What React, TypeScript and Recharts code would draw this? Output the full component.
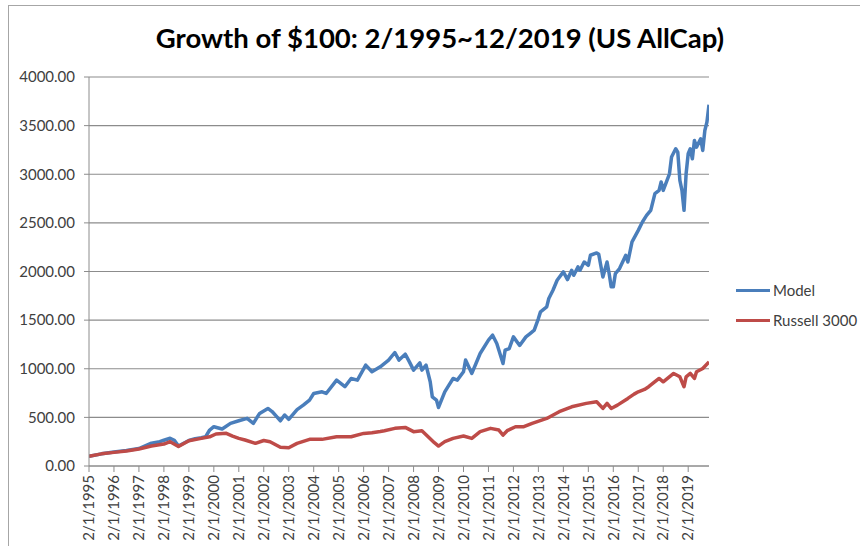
import { LineChart, Line, XAxis, YAxis, CartesianGrid, Legend } from 'recharts';

// month index 0 = 2/1995, 298 = 12/2019
const tickYears = [1995, 1996, 1997, 1998, 1999, 2000, 2001, 2002, 2003, 2004, 2005, 2006, 2007,
  2008, 2009, 2010, 2011, 2012, 2013, 2014, 2015, 2016, 2017, 2018, 2019];
const yTicks = [0, 500, 1000, 1500, 2000, 2500, 3000, 3500, 4000];

const modelMonth = [0, 6, 12, 18, 24, 30, 34, 36, 39, 41, 43, 48, 51, 54, 56, 58, 60, 64, 68, 72, 76, 79,
  82, 86, 88, 90, 92, 94, 96, 100, 103, 106, 108, 112, 114, 119, 123, 126, 129, 133, 136, 140, 144, 147,
  149, 152, 154, 156, 159, 160, 162, 164, 165, 167, 168, 171, 173, 175, 177, 180, 181, 184, 186, 188, 192,
  194, 196, 199, 200, 202, 204, 207, 210, 212, 214, 216, 217, 220, 221, 223, 225, 228, 230, 232, 233, 235,
  236, 238, 240, 241, 244, 245, 247, 249, 250, 251, 252, 253, 255, 258, 259, 261, 264, 266, 268, 270, 272,
  274, 275, 276, 279, 280, 282, 283, 284, 285, 286, 287, 288, 289, 290, 291, 292, 294, 295, 296, 297, 298];
const modelValue = [100, 125, 145, 160, 180, 235, 250, 265, 285, 265, 205, 262, 280, 290, 300, 370, 404,
  380, 438, 465, 490, 438, 541, 592, 560, 513, 465, 524, 480, 580, 626, 678, 746, 763, 746, 883, 815, 900,
  883, 1037, 969, 1020, 1089, 1167, 1089, 1150, 1071, 986, 1061, 986, 1037, 866, 712, 678, 602, 763, 832,
  900, 883, 969, 1089, 952, 1054, 1157, 1294, 1345, 1260, 1054, 1191, 1208, 1328, 1240, 1328, 1362, 1397,
  1516, 1585, 1636, 1722, 1807, 1910, 1996, 1917, 2013, 1961, 2047, 2013, 2098, 2064, 2167, 2191, 2177,
  1944, 2098, 1979, 1842, 1842, 1979, 2030, 2167, 2098, 2304, 2423, 2509, 2577, 2629, 2800, 2834, 2920,
  2834, 3005, 3177, 3262, 3228, 2937, 2834, 2629, 3005, 3211, 3262, 3159, 3348, 3279, 3365, 3245, 3450,
  3536, 3715];

const russellMonth = [0, 6, 12, 18, 24, 30, 36, 39, 43, 48, 54, 58, 61, 66, 69, 72, 75, 80, 84, 87, 92,
  96, 100, 106, 112, 119, 126, 132, 136, 140, 142, 147, 152, 156, 160, 163, 166, 168, 171, 175, 180, 184,
  188, 193, 197, 199, 201, 205, 209, 213, 220, 226, 232, 239, 244, 247, 249, 251, 254, 259, 262, 264, 267,
  269, 274, 276, 281, 284, 286, 287, 289, 291, 292, 295, 298];
const russellValue = [100, 125, 140, 155, 175, 205, 226, 250, 200, 260, 284, 300, 329, 336, 308, 284,
  267, 233, 262, 250, 192, 188, 233, 274, 274, 301, 301, 335, 342, 355, 363, 387, 397, 353, 363, 301, 240,
  205, 250, 284, 308, 284, 353, 387, 370, 318, 363, 404, 404, 438, 489, 558, 609, 644, 661, 592, 644, 592,
  626, 695, 739, 763, 787, 815, 900, 866, 952, 917, 815, 917, 952, 900, 969, 1003, 1071];

const modelData = modelMonth.map((m, i) => ({ m, v: modelValue[i] }));
const russellData = russellMonth.map((m, i) => ({ m, v: russellValue[i] }));

const FONT = 'Lato, "Open Sans", sans-serif';
const TEXT = '#404040';
const GRID = '#8c8c8c';

function XTick(props: any) {
  const { x, y, payload } = props;
  const yr = 1995 + payload.value / 12;
  return (
    <text x={x} y={y} dy="0.35em" textAnchor="end" transform={`rotate(-90 ${x} ${y})`}
      fill={TEXT} fontSize={15} fontFamily={FONT}>
      {`2/1/${yr}`}
    </text>
  );
}

function LegendBox(props: any) {
  const { payload } = props;
  return (
    <div style={{ fontFamily: FONT, fontSize: 15, color: TEXT }}>
      {(payload || []).map((p: any) => (
        <div key={p.value} style={{ display: 'flex', alignItems: 'center', height: 30 }}>
          <span style={{ display: 'inline-block', width: 34, height: 3, background: p.color, marginRight: 3 }} />
          <span>{p.value}</span>
        </div>
      ))}
    </div>
  );
}

export default function App() {
  return (
    <div style={{ position: 'relative', width: 860, height: 546, background: '#fff', overflow: 'hidden' }}>
      <style>{'body{margin:0}'}</style>
      <div style={{
        position: 'absolute', left: 8, top: 5, width: 852, height: 541,
        borderTop: '1px solid #a6a6a6', borderLeft: '1px solid #a6a6a6',
      }} />
      <div style={{
        position: 'absolute', left: 0, width: 880, top: 21, textAlign: 'center',
        fontFamily: FONT, fontWeight: 700, fontSize: 27.5, color: '#000',
      }}>
        Growth of $100: 2/1995~12/2019 (US AllCap)
      </div>
      <LineChart width={860} height={546} margin={{ top: 77, right: 151, bottom: 0, left: 0 }}
        style={{ position: 'absolute', left: 0, top: 0 }}>
        <CartesianGrid vertical={false} stroke={GRID} strokeWidth={1.2} />
        <XAxis dataKey="m" type="number" domain={[0, 298]} ticks={tickYears.map(y => (y - 1995) * 12)}
          allowDataOverflow height={80} tickSize={6} tickMargin={3} stroke={GRID}
          tick={<XTick />} interval={0} />
        <YAxis type="number" domain={[0, 4000]} ticks={yTicks} width={89} tickSize={5} tickMargin={9}
          stroke={GRID} tickFormatter={(v: number) => v.toFixed(2)}
          tick={{ fill: TEXT, fontSize: 15, fontFamily: FONT }} />
        <Legend layout="vertical" align="center" verticalAlign="middle" content={<LegendBox />}
          wrapperStyle={{ left: 736, top: 275, width: 124 }} />
        <Line data={modelData} dataKey="v" name="Model" stroke="#4a7ebb" strokeWidth={3.5} dot={false}
          type="linear" isAnimationActive={false} strokeLinejoin="round" />
        <Line data={russellData} dataKey="v" name="Russell 3000" stroke="#be4b48" strokeWidth={3.5} dot={false}
          type="linear" isAnimationActive={false} strokeLinejoin="round" />
      </LineChart>
    </div>
  );
}
